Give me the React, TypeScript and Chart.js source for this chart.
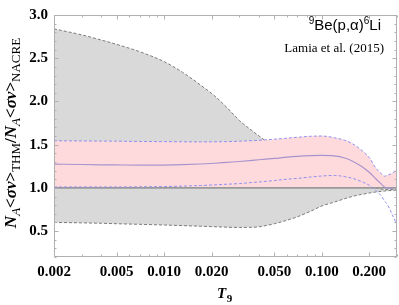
import { useEffect, useRef } from 'react';
import { Chart, registerables } from 'chart.js';

Chart.register(...registerables);

// Temperature grid (T9)
const T9 = [0.002, 0.003, 0.004, 0.005, 0.007, 0.01, 0.013, 0.017, 0.021, 0.025, 0.03, 0.035, 0.04, 0.05, 0.06, 0.07, 0.085, 0.1, 0.12, 0.14, 0.16, 0.18, 0.2, 0.22, 0.24, 0.25, 0.26, 0.28, 0.3];

// NACRE-based uncertainty band (grey)
const grayUpper = [2.84, 2.77, 2.71, 2.66, 2.575, 2.46, 2.34, 2.19, 2.06, 1.93, 1.78, 1.68, 1.6, 1.47, 1.39, 1.33, 1.27, 1.23, 1.2, 1.17, 1.14, 1.1, 1.05, 1.0, 0.985, 0.98, 0.98, 0.98, 0.98];
const grayLower = [0.6, 0.595, 0.59, 0.585, 0.578, 0.57, 0.563, 0.556, 0.55, 0.545, 0.542, 0.543, 0.55, 0.585, 0.625, 0.665, 0.73, 0.79, 0.835, 0.875, 0.905, 0.925, 0.94, 0.952, 0.96, 0.963, 0.966, 0.971, 0.975];

// THM band (pink) and recommended ratio
const pinkUpper = [1.545, 1.543, 1.541, 1.54, 1.537, 1.535, 1.533, 1.532, 1.533, 1.535, 1.54, 1.545, 1.55, 1.563, 1.575, 1.585, 1.597, 1.6, 1.58, 1.55, 1.5, 1.43, 1.35, 1.23, 1.16, 1.135, 1.145, 1.17, 1.215];
const pinkLower = [1.01, 1.01, 1.01, 1.01, 1.012, 1.015, 1.02, 1.027, 1.035, 1.042, 1.05, 1.06, 1.068, 1.085, 1.1, 1.11, 1.125, 1.137, 1.143, 1.13, 1.105, 1.07, 1.03, 0.97, 0.9, 0.85, 0.81, 0.69, 0.57];
const ratio = [1.275, 1.27, 1.267, 1.265, 1.263, 1.264, 1.268, 1.276, 1.285, 1.295, 1.305, 1.315, 1.325, 1.34, 1.355, 1.365, 1.373, 1.375, 1.37, 1.345, 1.3, 1.245, 1.18, 1.105, 1.04, 1.01, 1.0, 0.995, 0.99];

// Reference line at unity
const refT = [0.002, 0.3];
const refY = [1, 1];

// Axis ticks
const X_TICKS = [0.002, 0.005, 0.01, 0.02, 0.05, 0.1, 0.2];
const X_MINOR = [0.003, 0.004, 0.006, 0.007, 0.008, 0.009, 0.03, 0.04, 0.06, 0.07, 0.08, 0.09, 0.3];
const Y_TICKS = [0.5, 1.0, 1.5, 2.0, 2.5, 3.0];
const Y_MINOR = [0.2, 0.3, 0.4, 0.6, 0.7, 0.8, 0.9, 1.1, 1.2, 1.3, 1.4, 1.6, 1.7, 1.8, 1.9, 2.1, 2.2, 2.3, 2.4, 2.6, 2.7, 2.8, 2.9];

const SERIF = '"Liberation Serif", "Times New Roman", serif';
const SANS = '"Liberation Sans", Arial, sans-serif';

const pts = (ys: number[]) => T9.map((x, i) => ({ x, y: ys[i] }));

const decor = {
  id: 'decor',
  afterDraw(chart: any) {
    const { ctx, chartArea: a, scales } = chart;
    const x = scales.x;
    const y = scales.y;
    ctx.save();
    // frame
    ctx.strokeStyle = '#b0b0b0';
    ctx.lineWidth = 1;
    const L = Math.round(a.left) + 0.5;
    const R = Math.round(a.right) - 0.5;
    const Tp = Math.round(a.top) + 0.5;
    const B = Math.round(a.bottom) - 0.5;
    ctx.strokeRect(L, Tp, R - L, B - Tp);
    ctx.beginPath();
    const xt = (v: number, len: number) => {
      const px = Math.round(x.getPixelForValue(v)) + 0.5;
      ctx.moveTo(px, B); ctx.lineTo(px, B - len);
      ctx.moveTo(px, Tp); ctx.lineTo(px, Tp + len);
    };
    const yt = (v: number, len: number) => {
      const py = Math.round(y.getPixelForValue(v)) + 0.5;
      ctx.moveTo(L, py); ctx.lineTo(L + len, py);
      ctx.moveTo(R, py); ctx.lineTo(R - len, py);
    };
    X_TICKS.forEach((v) => xt(v, 4));
    X_MINOR.forEach((v) => xt(v, 2));
    Y_TICKS.forEach((v) => yt(v, 4));
    Y_MINOR.forEach((v) => yt(v, 2));
    ctx.stroke();

    ctx.fillStyle = '#000';
    ctx.textBaseline = 'alphabetic';

    // y-axis title (rotated)
    const M = `bold 17px ${SERIF}`;
    const MI = `bold italic 17px ${SERIF}`;
    const S = `13px ${SERIF}`;
    const SI = `italic 13px ${SERIF}`;
    const parts = [
      { t: 'N', f: MI, d: 0 },
      { t: 'A', f: SI, d: 4 },
      { t: '<', f: M, d: 0 },
      { t: 'σv', f: MI, d: 0 },
      { t: '>', f: M, d: 0 },
      { t: 'THM', f: S, d: 4 },
      { t: '/', f: M, d: 0 },
      { t: 'N', f: MI, d: 0 },
      { t: 'A', f: SI, d: 4 },
      { t: '<', f: M, d: 0 },
      { t: 'σv', f: MI, d: 0 },
      { t: '>', f: M, d: 0 },
      { t: 'NACRE', f: S, d: 4 },
    ];
    let total = 0;
    const widths = parts.map((p) => { ctx.font = p.f; const w = ctx.measureText(p.t).width; total += w; return w; });
    ctx.save();
    ctx.translate(16, 133);
    ctx.rotate(-Math.PI / 2);
    let u = -total / 2;
    parts.forEach((p, i) => { ctx.font = p.f; ctx.textAlign = 'left'; ctx.fillText(p.t, u, p.d); u += widths[i]; });
    ctx.restore();

    // x-axis title
    ctx.textAlign = 'left';
    ctx.font = `bold italic 15px ${SERIF}`;
    ctx.fillText('T', 217, 298);
    const tw = ctx.measureText('T').width;
    ctx.font = `bold 11px ${SERIF}`;
    ctx.fillText('9', 217 + tw + 0.5, 302);

    // reaction label
    const rx = [
      { t: '9', f: `10px ${SANS}`, d: -6 },
      { t: 'Be(p,α)', f: `15px ${SANS}`, d: 0 },
      { t: '6', f: `10px ${SANS}`, d: -6 },
      { t: 'Li', f: `15px ${SANS}`, d: 0 },
    ];
    let rt = 0;
    const rw = rx.map((p) => { ctx.font = p.f; const w = ctx.measureText(p.t).width; rt += w; return w; });
    let cx = 381 - rt;
    rx.forEach((p, i) => { ctx.font = p.f; ctx.fillText(p.t, cx, 30 + p.d); cx += rw[i]; });

    ctx.font = `13px ${SERIF}`;
    ctx.textAlign = 'right';
    ctx.fillText('Lamia et al. (2015)', 384, 52);
    ctx.restore();
  },
};

export default function App() {
  const ref = useRef<HTMLCanvasElement>(null);
  useEffect(() => {
    const line = { pointRadius: 0, cubicInterpolationMode: 'monotone' as const };
    const chart = new Chart(ref.current!, {
      type: 'line',
      data: {
        datasets: [
          { ...line, label: 'NACRE upper', data: pts(grayUpper), borderColor: '#7a7a7a', borderDash: [3, 2], borderWidth: 1, backgroundColor: '#d9d9d9', fill: '+1', order: 6 },
          { ...line, label: 'NACRE lower', data: pts(grayLower), borderColor: '#7a7a7a', borderDash: [3, 2], borderWidth: 1, fill: false, order: 5 },
          { ...line, label: 'THM upper', data: pts(pinkUpper), borderColor: '#9090ee', borderDash: [3, 2], borderWidth: 1, backgroundColor: '#ffdadd', fill: '+1', order: 4 },
          { ...line, label: 'unity', data: refT.map((x, i) => ({ x, y: refY[i] })), borderColor: '#999999', borderWidth: 1.6, fill: false, order: 3.5 },
          { ...line, label: 'THM lower', data: pts(pinkLower), borderColor: '#9090ee', borderDash: [3, 2], borderWidth: 1, fill: false, order: 3 },
          { ...line, label: 'THM/NACRE', data: pts(ratio), borderColor: '#a894cc', borderWidth: 1.2, fill: false, order: 1 },
        ],
      },
      options: {
        responsive: false,
        maintainAspectRatio: false,
        animation: false,
        layout: { padding: { top: 9, right: 2, left: 0, bottom: 0 } },
        plugins: { legend: { display: false }, tooltip: { enabled: false } },
        scales: {
          x: {
            type: 'logarithmic',
            min: 0.002,
            max: 0.3,
            grid: { display: false, drawTicks: false },
            border: { display: false },
            ticks: {
              autoSkip: false, maxRotation: 0, minRotation: 0, padding: 6, color: '#000',
              font: { family: SERIF, weight: 'bold', size: 15 },
              callback: (v: any) => Number(v).toFixed(3),
            },
            afterBuildTicks: (s: any) => { s.ticks = X_TICKS.map((v) => ({ value: v })); },
            afterFit: (s: any) => { s.height = 48; },
          },
          y: {
            type: 'linear',
            min: 0.2,
            max: 3.0,
            grid: { display: false, drawTicks: false },
            border: { display: false },
            ticks: {
              autoSkip: false, padding: 6, color: '#000',
              font: { family: SERIF, weight: 'bold', size: 15 },
              callback: (v: any) => Number(v).toFixed(1),
            },
            afterBuildTicks: (s: any) => { s.ticks = Y_TICKS.map((v) => ({ value: v })); },
            afterFit: (s: any) => { s.width = 54; },
          },
        },
      },
      plugins: [decor],
    });
    return () => chart.destroy();
  }, []);
  return (
    <div style={{ position: 'fixed', left: 0, top: 0, width: 399, height: 305, background: '#fff' }}>
      <canvas ref={ref} width={399} height={305} style={{ display: 'block', width: 399, height: 305 }} />
    </div>
  );
}
